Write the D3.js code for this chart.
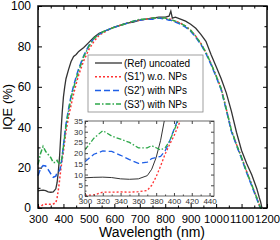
<!DOCTYPE html>
<meta charset="utf-8">
<style>
body { margin: 0; background: #fff; }
text { font-family: Arial, "Liberation Sans", sans-serif; }
.domain { display: none; }
</style>
<svg width="280" height="240"></svg>
<script src="https://cdn.jsdelivr.net/npm/d3@7"></script>
<script>

// wavelength grid (nm), shared by all curves
var wl = [300,310,320,330,340,350,360,370,
  375,380,385,390,395,400,405,410,
  420,430,440,450,460,
  480,500,520,540,560,580,600,
  625,650,675,700,725,750,775,800,
  815,822,828,
  840,860,880,900,920,940,960,980,1000,
  1020,1040,1060,1080,1100,1120,1140,1160,
  1170,1175,1180];

var ref = [8.5,8.7,8.8,8.6,8.0,7.8,8.0,9.5,
  12.5,18,26,37,47,55,60,64,
  68.5,72.5,75,76,77.5,
  79.5,82,84.5,86.5,87.5,88.5,89.5,
  90.5,91.5,92,93,93.5,94,94.5,94.5,
  95,97.5,94,
  94.5,93.5,92.5,91,89,86,82.5,76,70,
  64,57,48,37.5,28.5,22,16.5,9.5,
  5,3,0];

var s1 = [0.3,0.5,1.8,1.8,1.9,1.8,2.0,2.6,
  5,9,14,19.5,24,28,33,38,
  45,51,56.5,61.5,66,
  73,78.5,82.5,85.5,87,88.5,89.5,
  90.5,91.5,92.5,93,93.5,94,94,94,
  93.5,93.5,93,
  92.5,91.5,90,88,85,81.5,77,71.5,65.5,
  59,49,38.5,31.5,25,18,11.5,5,
  1.5,0,0];

var s2 = [16,19.5,21,20.8,19,17,15.2,15.8,
  17.5,18,18.5,21,25.5,31,36.5,41.5,
  49,55.5,60.5,65,69,
  75.5,80.5,84,86,87.5,88.5,89.5,
  90.5,91.5,92.5,93,93.5,93.5,94,93.5,
  93,93,92.5,
  92,91,89.5,87.5,84.5,81,76.5,71,65,
  58.5,48.5,38,31,24.5,17.5,11,4.5,
  1,0,0];

var s3 = [21.5,27,30.5,28,26.5,25,22.5,22.5,
  23.5,22.5,21.5,22.5,25.5,30.5,35.5,40.5,
  48,54.5,59.5,64,68,
  75,80,84,86,87.5,88.5,89.5,
  90.5,91.5,92.5,93.5,93.5,94,94,94,
  93.5,93.5,93,
  92.5,91.5,90,88,85,81.5,77,71.5,65.5,
  59,49,38.5,31.5,25,18,11.5,5,
  1.5,0,0];

var names = ["(Ref) uncoated", "(S1') w.o. NPs", "(S2') with NPs", "(S3') with NPs"];

var xTicks = [300,400,500,600,700,800,900,1000,1100,1200];
var yTicks = [0,20,40,60,80,100];
var insetXTicks = [300,320,340,360,380,400,420,440];
var insetYTicks = [0,5,10,15,20,25,30,35];

var colors = ["#333333", "#ff3333", "#1f5fe6", "#2ea84a"];
var dashes = [null, "2,2", "6,3", "5,2,1.5,2"];

var svg = d3.select("svg");
var allSeries = [ref, s1, s2, s3];

function pts(vals) { return vals.map(function(v, i) { return [wl[i], v]; }); }

// ---- main plot
var x = d3.scaleLinear().domain([300, 1200]).range([38, 267]);
var y = d3.scaleLinear().domain([0, 100]).range([208, 6]);

var line = d3.line().x(function(d) { return x(d[0]); }).y(function(d) { return y(d[1]); });

svg.append("g").selectAll("path")
  .data(allSeries)
  .enter().append("path")
    .attr("d", function(d) { return line(pts(d)); })
    .attr("fill", "none")
    .attr("stroke", function(d, i) { return colors[i]; })
    .attr("stroke-width", function(d, i) { return i == 0 ? 1.3 : 1.5; })
    .attr("stroke-dasharray", function(d, i) { return dashes[i]; });

function ticks(g, axis) {
  g.call(axis);
  g.selectAll("line").attr("stroke", "#000");
}

var xMinor = d3.range(350, 1200, 100);
var yMinor = d3.range(10, 100, 20);

svg.append("g").attr("transform", "translate(0,208)")
  .call(ticks, d3.axisBottom(x).tickValues(xTicks).tickSize(-4).tickPadding(6.5).tickFormat(d3.format("d")))
  .selectAll("text").attr("font-size", 11.3).attr("fill", "#000");
svg.append("g").attr("transform", "translate(0,208)")
  .call(ticks, d3.axisBottom(x).tickValues(xMinor).tickSize(-2.5).tickFormat(""));
svg.append("g").attr("transform", "translate(0,6)")
  .call(ticks, d3.axisTop(x).tickValues(xTicks).tickSize(-4).tickFormat(""));
svg.append("g").attr("transform", "translate(0,6)")
  .call(ticks, d3.axisTop(x).tickValues(xMinor).tickSize(-2.5).tickFormat(""));

svg.append("g").attr("transform", "translate(38,0)")
  .call(ticks, d3.axisLeft(y).tickValues(yTicks).tickSize(-4).tickPadding(7))
  .selectAll("text").attr("font-size", 12).attr("fill", "#000");
svg.append("g").attr("transform", "translate(38,0)")
  .call(ticks, d3.axisLeft(y).tickValues(yMinor).tickSize(-2.5).tickFormat(""));
svg.append("g").attr("transform", "translate(267,0)")
  .call(ticks, d3.axisRight(y).tickValues(yTicks).tickSize(-4).tickFormat(""));
svg.append("g").attr("transform", "translate(267,0)")
  .call(ticks, d3.axisRight(y).tickValues(yMinor).tickSize(-2.5).tickFormat(""));

svg.append("rect")
  .attr("x", 38).attr("y", 6).attr("width", 229).attr("height", 202)
  .attr("fill", "none").attr("stroke", "#000").attr("stroke-width", 1.5);

svg.append("text")
  .attr("x", 152).attr("y", 236.5)
  .attr("text-anchor", "middle").attr("font-size", 14)
  .text("Wavelength (nm)");

svg.append("text")
  .attr("transform", "translate(12,107) rotate(-90)")
  .attr("text-anchor", "middle").attr("font-size", 13)
  .text("IQE (%)");

// ---- legend
var lg = svg.append("g");
lg.append("rect")
  .attr("x", 88).attr("y", 55).attr("width", 115).attr("height", 57)
  .attr("fill", "#fff").attr("stroke", "#888").attr("stroke-width", 0.8);

var row = lg.selectAll("g.row")
  .data(names)
  .enter().append("g")
    .attr("class", "row")
    .attr("transform", function(d, i) { return "translate(0," + (63 + i * 13.7) + ")"; });
row.append("line")
  .attr("x1", 95).attr("x2", 122)
  .attr("stroke", function(d, i) { return colors[i]; })
  .attr("stroke-width", function(d, i) { return i == 0 ? 1.3 : 1.5; })
  .attr("stroke-dasharray", function(d, i) { return dashes[i]; });
row.append("text")
  .attr("x", 124).attr("dy", "0.35em")
  .attr("font-size", 10)
  .text(function(d) { return d; });

// ---- inset
var ix = d3.scaleLinear().domain([300, 445]).range([85, 214]);
var iy = d3.scaleLinear().domain([0, 35]).range([196, 121]);

svg.append("rect")
  .attr("x", 85).attr("y", 121).attr("width", 129).attr("height", 75)
  .attr("fill", "#fff");

svg.append("clipPath").attr("id", "insetClip")
  .append("rect").attr("x", 85).attr("y", 121).attr("width", 129).attr("height", 75);

var iline = d3.line().x(function(d) { return ix(d[0]); }).y(function(d) { return iy(d[1]); });

svg.append("g").attr("clip-path", "url(#insetClip)")
  .selectAll("path")
  .data(allSeries)
  .enter().append("path")
    .attr("d", function(d) { return iline(pts(d)); })
    .attr("fill", "none")
    .attr("stroke", function(d, i) { return colors[i]; })
    .attr("stroke-width", function(d, i) { return i == 0 ? 1 : 1.3; })
    .attr("stroke-dasharray", function(d, i) { return dashes[i]; });

var ixMinor = d3.range(310, 445, 20);
var iyMinor = d3.range(2.5, 35, 5);

function smallTicks(g, axis) {
  g.call(axis);
  g.selectAll("line").attr("stroke", "#444");
  g.selectAll("text").attr("font-size", 8).attr("fill", "#333");
}

svg.append("g").attr("transform", "translate(0,196)")
  .call(smallTicks, d3.axisBottom(ix).tickValues(insetXTicks).tickSize(-3).tickPadding(2.5));
svg.append("g").attr("transform", "translate(0,196)")
  .call(smallTicks, d3.axisBottom(ix).tickValues(ixMinor).tickSize(-1.5).tickFormat(""));
svg.append("g").attr("transform", "translate(0,121)")
  .call(smallTicks, d3.axisTop(ix).tickValues(insetXTicks).tickSize(-3).tickFormat(""));
svg.append("g").attr("transform", "translate(85,0)")
  .call(smallTicks, d3.axisLeft(iy).tickValues(insetYTicks).tickSize(-3).tickPadding(2));
svg.append("g").attr("transform", "translate(85,0)")
  .call(smallTicks, d3.axisLeft(iy).tickValues(iyMinor).tickSize(-1.5).tickFormat(""));
svg.append("g").attr("transform", "translate(214,0)")
  .call(smallTicks, d3.axisRight(iy).tickValues(insetYTicks).tickSize(-3).tickFormat(""));

svg.append("rect")
  .attr("x", 85).attr("y", 121).attr("width", 129).attr("height", 75)
  .attr("fill", "none").attr("stroke", "#444").attr("stroke-width", 0.8);

</script>
